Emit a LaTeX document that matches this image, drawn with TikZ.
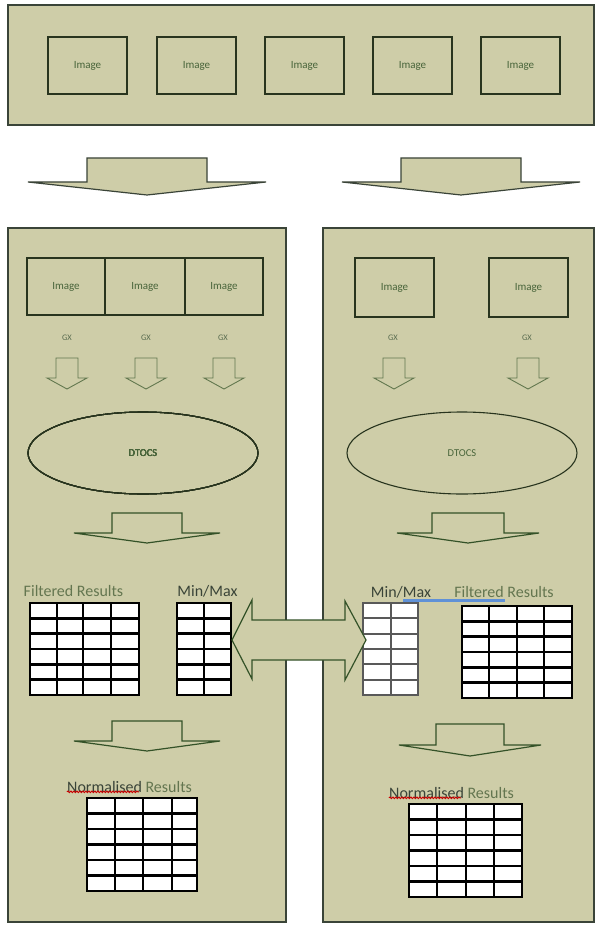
\documentclass[tikz,border=0pt]{standalone}
\usepackage{fontspec}
\setmainfont{Carlito}
\usetikzlibrary{shapes.geometric,decorations.pathmorphing}
\definecolor{panelfill}{RGB}{206,205,168}
\definecolor{panelline}{RGB}{58,68,56}
\definecolor{boxline}{RGB}{40,52,30}
\definecolor{txtgreen}{RGB}{72,100,58}
\definecolor{lblgreen}{RGB}{100,118,80}
\definecolor{arrline}{RGB}{52,82,40}
\definecolor{bluebar}{RGB}{95,145,215}
\tikzset{
  panel/.style={draw=panelline, line width=1.2pt, fill=panelfill, inner sep=0pt},
  imgbox/.style={draw=boxline, line width=1.3pt, inner sep=0pt, font=\fontsize{11}{12}\selectfont, text=txtgreen},
  gxlbl/.style={font=\fontsize{8.5}{9}\selectfont, text=txtgreen!70!gray, inner sep=0pt},
  oval/.style={ellipse, draw=boxline, line width=1.1pt, inner sep=0pt, font=\fontsize{10.5}{11}\selectfont, text=txtgreen},
  biglbl/.style={font=\fontsize{16}{17}\selectfont, inner sep=0pt},
  bigarrow/.style={draw=arrline, line width=1.2pt, fill=panelfill, line join=miter},
  smallarrow/.style={draw=arrline!70!panelfill, line width=0.9pt, fill=panelfill},
  tabbox/.style={draw=black, line width=1.5pt, fill=white, inner sep=0pt},
}
% block arrow: cx, top, shaft half width, wing half width, wing y, tip y, style
\newcommand\blockarr[7]{%
  \draw[#7] (#1-#3,#2) -- (#1+#3,#2) -- (#1+#3,#5) -- (#1+#4,#5) -- (#1,#6) -- (#1-#4,#5) -- (#1-#3,#5) -- cycle;}
% table: name, x1, y1, x2, y2, list of x lines, hline width, line colour
\newcommand\gtab[8]{%
  \node[tabbox, draw=#8, minimum width={(#4-#2)*1pt}, minimum height={(#5-#3)*1pt}] (#1) at ({(#2+#4)/2},{(#3+#5)/2}) {};
  \foreach \xx in {#6} \draw[#8, line width=1.3pt] (\xx,#3) -- (\xx,#5);
  \foreach \k in {1,...,5} \draw[#8, line width=#7] (#2,{#3+(#5-#3)*\k/6}) -- (#4,{#3+(#5-#3)*\k/6});
  \draw[#8, line width=1.5pt] (#2,#3) rectangle (#4,#5);}
\begin{document}
\begin{tikzpicture}[x=1pt,y=-1pt]
\useasboundingbox[fill=white] (0,0) rectangle (596,925);
% top panel
\node[panel, minimum width=586pt, minimum height=120pt] (top) at (301,65) {};
\foreach \n/\cx in {1/87.5, 2/196.5, 3/304.5, 4/412.5, 5/520.5}
  \node[imgbox, minimum width=79pt, minimum height=57pt] (t\n) at (\cx,65.5) {Image};
% top arrows
\blockarr{147}{158}{60}{119}{182}{195}{bigarrow, draw=panelline}
\blockarr{461}{158}{60}{119}{182}{195}{bigarrow, draw=panelline}
% lower panels
\node[panel, minimum width=278pt, minimum height=694pt] (lp) at (147,575) {};
\node[panel, minimum width=271pt, minimum height=694pt] (rp) at (458.5,575) {};
% left images
\node[imgbox, minimum width=78pt, minimum height=57pt] (l1) at (66,286.5) {Image};
\node[imgbox, minimum width=80pt, minimum height=57pt] (l2) at (145,286.5) {Image};
\node[imgbox, minimum width=78pt, minimum height=57pt] (l3) at (224,286.5) {Image};
% right images
\node[imgbox, minimum width=79pt, minimum height=59pt] (r1) at (394.5,287.5) {Image};
\node[imgbox, minimum width=79pt, minimum height=59pt] (r2) at (528.5,287.5) {Image};
% GX labels
\node[gxlbl] (lg1) at (67,338) {GX};
\node[gxlbl] (lg2) at (146,338) {GX};
\node[gxlbl] (lg3) at (223,338) {GX};
\node[gxlbl] (rg1) at (393,338) {GX};
\node[gxlbl] (rg2) at (527,338) {GX};
% small arrows
\foreach \cx in {67,146,224,394,528}
  \blockarr{\cx}{358}{11}{20}{378}{389}{smallarrow}
% ellipses
\node[oval, minimum width=230pt, minimum height=82pt] (le) at (143,453) {DTOCS};
\node[oval, minimum width=230pt, minimum height=82pt] (re) at (462,453) {DTOCS};
% middle arrows
\blockarr{147}{513}{35}{73}{533}{543}{bigarrow}
\blockarr{468}{513}{36}{71}{533}{543}{bigarrow}
% labels
\node[biglbl, text=lblgreen] (lfr) at (73.5,591) {Filtered Results};
\node[biglbl, text=panelline] (lmm) at (207.5,591) {Min/Max};
\draw[bluebar, line width=3pt] (403,600) -- (505,600);
\node[biglbl, text=panelline] (rmm) at (401,592) {Min/Max};
\node[biglbl, text=lblgreen] (rfr) at (504,592) {Filtered Results};
% tables
\gtab{ltf}{30}{603}{139}{695}{57,83,111}{2.6pt}{black}
\gtab{ltm}{177}{603}{231}{695}{204}{2.6pt}{black}
\gtab{rtm}{363}{603}{418}{695}{391}{1.8pt}{black!65}
\gtab{rtf}{462}{606}{572}{698}{489,517,544}{2.6pt}{black}
% double arrow
\draw[bigarrow] (232,640) -- (252,600) -- (252,620) -- (345,620) -- (345,601) -- (366,640)
  -- (345,680) -- (345,660) -- (252,660) -- (252,679) -- cycle;
% bottom arrows
\blockarr{147}{721}{35}{73}{741}{751}{bigarrow}
\blockarr{470}{724}{34}{71}{745}{756}{bigarrow}
% normalised results
\node[biglbl, text=lblgreen, anchor=west] (lnr) at (67,787) {\textcolor{panelline}{Normalised} Results};
\draw[red!80!black, line width=0.9pt, decorate, decoration={snake, amplitude=0.8pt, segment length=3pt}]
  (lnr.south west) ++(0,-1) -- ++(72,0);
\node[biglbl, text=lblgreen, anchor=west] (rnr) at (389,793) {\textcolor{panelline}{Normalised} Results};
\draw[red!80!black, line width=0.9pt, decorate, decoration={snake, amplitude=0.8pt, segment length=3pt}]
  (rnr.south west) ++(0,-1) -- ++(72,0);
\gtab{ltn}{87}{798}{197}{891}{115,143,172}{2.6pt}{black}
\gtab{rtn}{409}{804}{522}{897}{437,466,494}{2.6pt}{black}
\end{tikzpicture}
\end{document}
